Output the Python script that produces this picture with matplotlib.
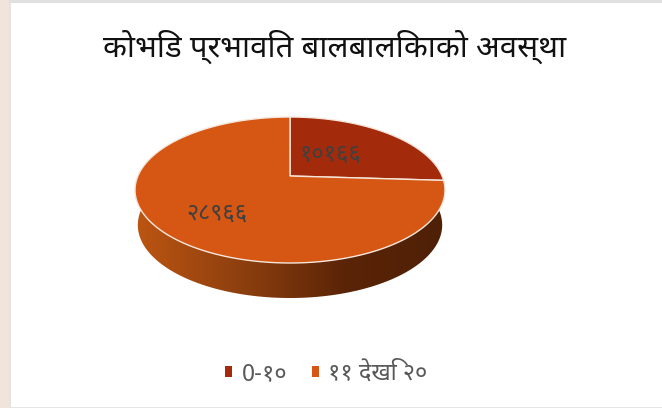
import numpy as np
import matplotlib
matplotlib.use("Agg")
import matplotlib.pyplot as plt
from matplotlib.patches import Polygon, Patch, Rectangle
from matplotlib.colors import LinearSegmentedColormap

TITLE = "कोभिड प्रभावित बालबालिकाको अवस्था"
categories = ["0-१०", "११ देखि २०"]
values = [10166, 28966]
value_labels = ["१०१६६", "२८९६६"]
colors = ["#A32B0B", "#D55713"]
FONT = ["Noto Sans Devanagari", "Annapurna SIL", "DejaVu Sans"]
TEXT_DARK = "#404040"
TEXT_GREY = "#595959"

fig = plt.figure(figsize=(6.62, 4.08), dpi=100, facecolor="white")
ax = fig.add_axes([0, 0, 1, 1])
ax.set_xlim(0, 662); ax.set_ylim(408, 0); ax.axis("off")

# slide background: peach strip, grey frame lines
ax.add_patch(Rectangle((0, 0), 9, 408, fc="#F0E4DB", ec="none", zorder=0))
ax.add_patch(Rectangle((9, 0), 2, 408, fc="#E4E4E4", ec="none", zorder=0))
ax.add_patch(Rectangle((9, 0), 653, 2.5, fc="#E0E0E0", ec="none", zorder=0))
ax.add_patch(Rectangle((9, 406.5), 653, 1.5, fc="#E4E4E4", ec="none", zorder=0))

# perspective mapping of the pie disc
CX, CY0, A, C, S = 290, 176, 70.3, 0.192, 152.1
def proj(t, dy=0, sx=1.0):
    u, v = np.sin(t), np.cos(t)
    w = 1 + C * v
    return np.column_stack([CX + sx * S * u / w, CY0 - A * v / w + dy])

# side wall with horizontal gradient, clipped to the extruded outline
front = np.linspace(np.pi * 0.5 - 0.08, np.pi * 1.5 + 0.08, 240)
top_edge = proj(front)
bottom_edge = proj(front, dy=35, sx=0.982)
wall = Polygon(np.vstack([top_edge, bottom_edge[::-1]]), closed=True,
               fc="none", ec="none", transform=ax.transData)
ax.add_patch(wall)
grad = LinearSegmentedColormap.from_list(
    "side", [(0, "#BC5512"), (0.33, "#8F400F"), (0.68, "#5A2407"), (1, "#4F2006")])
im = ax.imshow(np.linspace(0, 1, 320).reshape(1, -1), cmap=grad, aspect="auto",
               extent=(135, 445, 300, 170), zorder=2)
im.set_clip_path(wall)
ax.set_xlim(0, 662); ax.set_ylim(408, 0)

# top face of the pie, one wedge per value
start = 0.0
total = sum(values)
for val, col in zip(values, colors):
    end = start + val / total * 2 * np.pi
    t = np.linspace(start, end, 240)
    pts = np.vstack([[CX, CY0], proj(t)])
    ax.add_patch(Polygon(pts, closed=True, fc=col, ec="#F5E6DC", lw=1.0, zorder=3))
    start = end

# data labels
ax.text(330, 155, value_labels[0], family=FONT, fontsize=17, color=TEXT_DARK,
        ha="center", va="center", zorder=4)
ax.text(217, 214, value_labels[1], family=FONT, fontsize=17, color=TEXT_DARK,
        ha="center", va="center", zorder=4)

# title
ax.text(335, 47, TITLE, family=FONT, fontsize=22.4, color="#111111",
        ha="center", va="center", zorder=4)

# legend
handles = [Patch(fc=c, ec="none") for c in colors]
leg = ax.legend(handles, categories, loc="center left",
                bbox_to_anchor=(225 / 662, 1 - 374 / 408),
                ncol=2, frameon=False, borderpad=0, borderaxespad=0,
                handlelength=0.3, handleheight=0.3,
                handletextpad=0.4, columnspacing=1.05, labelcolor=TEXT_GREY,
                prop={"family": FONT, "size": 17})

fig.savefig("out.png", dpi=100)
